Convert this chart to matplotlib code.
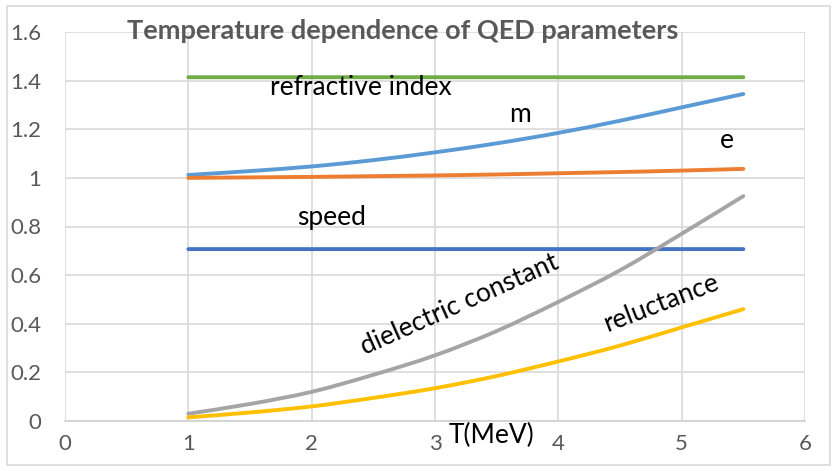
import matplotlib
matplotlib.use("Agg")
import matplotlib.pyplot as plt
from matplotlib.patches import Rectangle, PathPatch
from matplotlib.path import Path

T = [1.0, 1.5, 2.0, 2.5, 3.0, 3.5, 4.0, 4.5, 5.0, 5.5]
refractive_index = [1.414] * 10
speed = [0.707] * 10
m_vals = [1.012, 1.028, 1.047, 1.073, 1.105, 1.142, 1.185, 1.235, 1.290, 1.345]
e_vals = [1.000, 1.002, 1.004, 1.007, 1.010, 1.014, 1.019, 1.024, 1.030, 1.037]
dielectric = [0.030, 0.070, 0.120, 0.190, 0.270, 0.370, 0.490, 0.620, 0.770, 0.925]
reluctance = [0.015, 0.035, 0.060, 0.095, 0.135, 0.185, 0.245, 0.310, 0.385, 0.460]

x_ticks = [0, 1, 2, 3, 4, 5, 6]
y_ticks = [0, 0.2, 0.4, 0.6, 0.8, 1.0, 1.2, 1.4, 1.6]
y_labels = ["0", "0.2", "0.4", "0.6", "0.8", "1", "1.2", "1.4", "1.6"]

FONT = ["Lato", "DejaVu Sans"]
plt.rcParams['font.family'] = FONT

W, H = 835, 471
fig = plt.figure(figsize=(W / 100, H / 100), dpi=100)
fig.patches.append(Rectangle((7 / W, 1 - 465 / H), 823 / W, 459 / H, transform=fig.transFigure,
                             fill=False, edgecolor="#D9D9D9", linewidth=1.2))

ax = fig.add_axes([65 / W, 1 - 421 / H, 740 / W, 389 / H])
ax.set_xlim(0, 6)
ax.set_ylim(0, 1.6)
ax.set_xticks(x_ticks)
ax.set_yticks(y_ticks)
ax.set_yticklabels(y_labels)
ax.grid(True, color="#D9D9D9", linewidth=1.2)
ax.set_axisbelow(True)
for s in ["top", "right", "left"]:
    ax.spines[s].set_visible(False)
ax.spines["bottom"].set_color("#D0D0D0")
ax.spines["bottom"].set_linewidth(1.2)
ax.tick_params(length=0, labelsize=16, labelcolor="#595959")
ax.tick_params(axis="y", pad=17)
ax.tick_params(axis="x", pad=9)


def smooth_line(ax, xs, ys, color, lw):
    # Excel-style smoothed line: Catmull-Rom converted to cubic Bezier segments
    n = len(xs)
    verts = [(xs[0], ys[0])]
    codes = [Path.MOVETO]
    for i in range(n - 1):
        x0, y0 = (xs[i - 1], ys[i - 1]) if i > 0 else (xs[i], ys[i])
        x1, y1 = xs[i], ys[i]
        x2, y2 = xs[i + 1], ys[i + 1]
        x3, y3 = (xs[i + 2], ys[i + 2]) if i + 2 < n else (xs[i + 1], ys[i + 1])
        c1 = (x1 + (x2 - x0) / 6, y1 + (y2 - y0) / 6)
        c2 = (x2 - (x3 - x1) / 6, y2 - (y3 - y1) / 6)
        verts += [c1, c2, (x2, y2)]
        codes += [Path.CURVE4] * 3
    ax.add_patch(PathPatch(Path(verts, codes), facecolor="none", edgecolor=color,
                           linewidth=lw, capstyle="round", joinstyle="round"))


lw = 2.8
smooth_line(ax, T, refractive_index, "#70AD47", lw)
smooth_line(ax, T, speed, "#4472C4", lw)
smooth_line(ax, T, m_vals, "#5B9BD5", lw)
smooth_line(ax, T, e_vals, "#ED7D31", lw)
smooth_line(ax, T, dielectric, "#A5A5A5", lw)
smooth_line(ax, T, reluctance, "#FFC000", lw)

fs = 19
ax.text(1.66, 1.37, "refractive index", fontsize=fs, color="black", va="center", ha="left")
ax.text(3.69, 1.26, "m", fontsize=fs, color="black", va="center", ha="center")
ax.text(5.37, 1.155, "e", fontsize=fs, color="black", va="center", ha="center")
ax.text(2.16, 0.835, "speed", fontsize=fs, color="black", va="center", ha="center")
ax.text(3.2, 0.477, "dielectric constant", fontsize=fs, color="black", va="center", ha="center",
        rotation=24, rotation_mode="anchor")
ax.text(4.83, 0.485, "reluctance", fontsize=fs, color="black", va="center", ha="center",
        rotation=21, rotation_mode="anchor")
ax.text(3.46, -0.058, "T(MeV)", fontsize=fs, color="black", va="center", ha="center")

fig.text(403 / W, 1 - 31 / H, "Temperature dependence of QED parameters", fontsize=19.5,
         fontweight="bold", color="#595959", ha="center", va="center")

fig.savefig("out.png", dpi=100)
